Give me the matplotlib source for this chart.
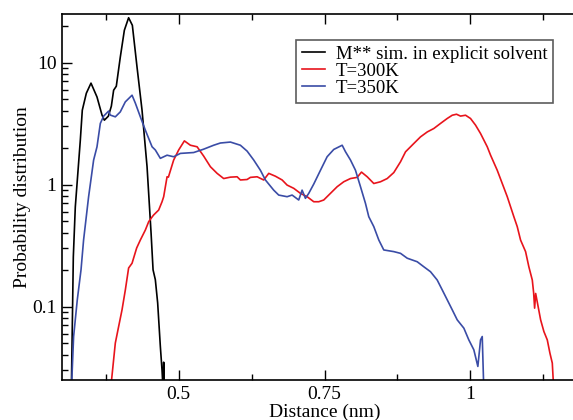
import matplotlib
matplotlib.use("Agg")
import matplotlib.pyplot as plt
from matplotlib.ticker import LogLocator, FixedLocator, NullFormatter, FixedFormatter

plt.rcParams['font.family'] = ['Liberation Serif', 'DejaVu Serif']
plt.rcParams['mathtext.fontset'] = 'stix'

# Black: M** simulation in explicit solvent
black_x = [0.3160, 0.3194, 0.3228, 0.3314, 0.3348, 0.3417, 0.3497, 0.3600, 0.3686,
           0.3726, 0.3794, 0.3846, 0.3885, 0.3931, 0.3999, 0.4069, 0.4142, 0.4206,
           0.4286, 0.4372, 0.4458, 0.4527, 0.4561, 0.4600, 0.4640, 0.4686, 0.4715,
           0.4732, 0.4743, 0.4754]
black_y = [0.02, 0.255, 0.655, 2.31, 4.07, 5.6, 6.78, 5.22, 3.71,
           3.37, 3.63, 4.39, 5.93, 6.4, 11.05, 18.4, 23.3, 20.2,
           9.2, 4.07, 1.40, 0.40, 0.20, 0.166, 0.107, 0.047, 0.030,
           0.021, 0.035, 0.02]

# Red: T=300K
red_x = [0.3829, 0.3914, 0.3971, 0.4029, 0.4086, 0.4142, 0.4201, 0.4280, 0.4343,
         0.4429, 0.4486, 0.4544, 0.4571, 0.4657, 0.4715, 0.4743, 0.4801, 0.4824,
         0.4914, 0.5000, 0.5098, 0.5201, 0.5316, 0.5429, 0.5544, 0.5659, 0.5772,
         0.5887, 0.6002, 0.6058, 0.6173, 0.6230, 0.6345, 0.6458, 0.6544, 0.6659,
         0.6774, 0.6859, 0.6973, 0.7087, 0.7202, 0.7316, 0.7401, 0.7487, 0.7602,
         0.7717, 0.7830, 0.7945, 0.8060, 0.8134, 0.8232, 0.8345, 0.8460, 0.8575,
         0.8688, 0.8803, 0.8889, 0.9031, 0.9146, 0.9262, 0.9374, 0.9489, 0.9604,
         0.9690, 0.9763, 0.9832, 0.9918, 1.0003, 1.0089, 1.0175, 1.0290, 1.0347,
         1.0461, 1.0633, 1.0746, 1.0804, 1.0861, 1.0947, 1.1003, 1.1062, 1.1085,
         1.1102, 1.1120, 1.1205, 1.1261, 1.1319, 1.1364, 1.1405, 1.1432]
red_y = [0.02, 0.0502, 0.0686, 0.094, 0.137, 0.207, 0.2265, 0.302, 0.351,
         0.424, 0.496, 0.542, 0.563, 0.618, 0.723, 0.795, 1.158, 1.15,
         1.587, 1.92, 2.28, 2.10, 2.04, 1.71, 1.40, 1.235, 1.12,
         1.15, 1.158, 1.09, 1.10, 1.145, 1.158, 1.09, 1.235, 1.17,
         1.09, 0.99, 0.931, 0.847, 0.795, 0.723, 0.723, 0.747, 0.847,
         0.96, 1.054, 1.12, 1.145, 1.265, 1.158, 1.02, 1.054, 1.12,
         1.254, 1.537, 1.855, 2.17, 2.46, 2.70, 2.88, 3.17, 3.48,
         3.70, 3.77, 3.64, 3.70, 3.48, 3.07, 2.62, 2.04, 1.74,
         1.31, 0.795, 0.545, 0.452, 0.351, 0.282, 0.212, 0.165, 0.13,
         0.097, 0.128, 0.0778, 0.0624, 0.0533, 0.0416, 0.0344, 0.02]

# Blue: T=350K
blue_x = [0.3160, 0.3199, 0.3262, 0.3326, 0.3370, 0.3456, 0.3542, 0.3600, 0.3657,
          0.3714, 0.3799, 0.3828, 0.3914, 0.3999, 0.4085, 0.4201, 0.4258, 0.4343,
          0.4429, 0.4544, 0.4600, 0.4686, 0.4801, 0.4914, 0.5029, 0.5257, 0.5429,
          0.5600, 0.5715, 0.5887, 0.6058, 0.6173, 0.6286, 0.6401, 0.6487, 0.6629,
          0.6715, 0.6859, 0.6945, 0.7058, 0.7116, 0.7173, 0.7230, 0.7316, 0.7431,
          0.7545, 0.7659, 0.7803, 0.7859, 0.7945, 0.8031, 0.8117, 0.8202, 0.8259,
          0.8345, 0.8431, 0.8516, 0.8688, 0.8803, 0.8918, 0.9089, 0.9202, 0.9317,
          0.9432, 0.9518, 0.9604, 0.9690, 0.9775, 0.9889, 0.9974, 1.0060, 1.0129,
          1.0175, 1.0204, 1.0232]
blue_y = [0.02, 0.0568, 0.1135, 0.20, 0.351, 0.794, 1.587, 2.04, 3.17,
          3.64, 4.0, 3.71, 3.59, 3.94, 4.76, 5.40, 4.64, 3.59,
          2.79, 2.04, 1.92, 1.64, 1.74, 1.69, 1.80, 1.83, 1.95,
          2.10, 2.19, 2.23, 2.10, 1.88, 1.59, 1.31, 1.09, 0.90,
          0.82, 0.795, 0.82, 0.747, 0.90, 0.771, 0.847, 1.01, 1.31,
          1.69, 1.94, 2.10, 1.86, 1.59, 1.31, 0.96, 0.702, 0.545,
          0.452, 0.351, 0.291, 0.282, 0.273, 0.249, 0.233, 0.212, 0.193,
          0.165, 0.137, 0.1135, 0.094, 0.0778, 0.0665, 0.0533, 0.0442, 0.0323,
          0.0533, 0.0568, 0.02]

labels = ["M** sim. in explicit solvent", "T=300K", "T=350K"]
x_ticks = [0.5, 0.75, 1.0]
x_tick_labels = ["0.5", "0.75", "1"]
y_ticks = [0.1, 1, 10]
y_tick_labels = ["0.1", "1", "10"]

fig = plt.figure(figsize=(5.73, 4.2), dpi=100)
ax = fig.add_axes([62/573, 1 - 380/420, (587 - 62)/573, (380 - 14)/420])

ax.plot(black_x, black_y, color='black', lw=1.2, label=labels[0])
ax.plot(red_x, red_y, color='#e8141c', lw=1.2, label=labels[1])
ax.plot(blue_x, blue_y, color='#3a4ca6', lw=1.2, label=labels[2])

ax.set_yscale('log')
ax.set_xlim(0.3, 1.2)
ax.set_ylim(0.025, 25)

ax.xaxis.set_major_locator(FixedLocator(x_ticks))
ax.xaxis.set_major_formatter(FixedFormatter(x_tick_labels))
ax.xaxis.set_minor_locator(FixedLocator([0.375, 0.625, 0.875, 1.125]))
ax.yaxis.set_major_locator(FixedLocator(y_ticks))
ax.yaxis.set_major_formatter(FixedFormatter(y_tick_labels))
ax.yaxis.set_minor_locator(LogLocator(base=10, subs=range(2, 10)))
ax.yaxis.set_minor_formatter(NullFormatter())

ax.tick_params(which='both', direction='in', top=True, right=False, labelsize=14, width=1)
ax.tick_params(which='major', length=7, pad=4)
ax.tick_params(which='minor', length=4)
ax.spines['right'].set_visible(False)
for s in ['left', 'top', 'bottom']:
    ax.spines[s].set_linewidth(1.2)

ax.set_xlabel("Distance (nm)", fontsize=14, labelpad=1)
ax.set_ylabel("Probability distribution", fontsize=14, labelpad=0.5)

leg = ax.legend(loc='upper right', bbox_to_anchor=((553 - 62)/525, (380 - 40)/366),
                fontsize=13.5, frameon=True, fancybox=False, edgecolor='#333333',
                handlelength=1.2, handletextpad=0.6, labelspacing=0.0,
                borderpad=0.3, borderaxespad=0)
leg.get_frame().set_linewidth(1.2)

fig.savefig("out.png", dpi=100)
